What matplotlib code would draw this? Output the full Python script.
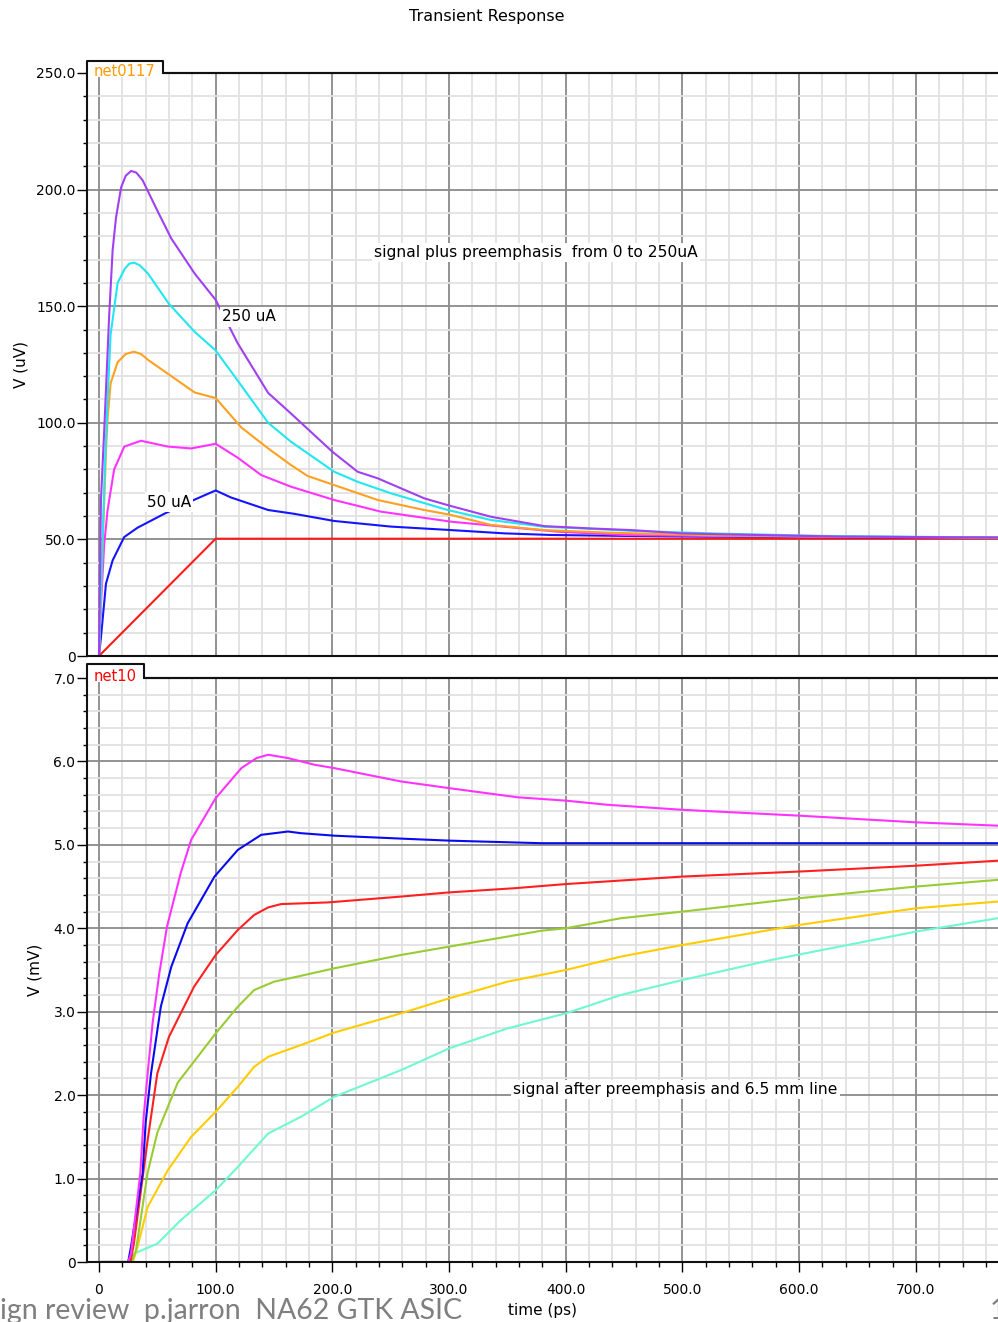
import matplotlib
matplotlib.use('agg')
import matplotlib.pyplot as plt
from matplotlib.ticker import MultipleLocator, FuncFormatter
from matplotlib.patches import Rectangle
from matplotlib.lines import Line2D

# ---- top panel: net0117, V (uV) vs time (ps) ----
t_ramp = [0, 100, 770]
v_ramp = [0, 50.3, 50.3]

t_50ua = [0, 1.7, 6, 11.7, 21.6, 33, 56, 81.7, 100, 113, 145, 167, 201.6, 250,
          301.6, 347, 387, 450, 520, 600, 770]
v_50ua = [0, 8, 31, 41, 51, 55, 61, 67, 71, 68, 62.6, 61, 57.9, 55.5,
          54, 52.6, 51.9, 51.5, 51.2, 51, 50.8]

t_100ua = [0, 2, 4.5, 7.4, 13, 21.7, 36, 59, 79, 100, 119, 139, 164.5, 201.6,
           241.6, 301.6, 341.6, 393, 450, 520, 600, 770]
v_100ua = [0, 25, 48, 62.6, 80, 89.8, 92.3, 89.8, 89, 91, 85, 77.6, 72.6, 66.9,
           61.9, 57.6, 55.7, 53.3, 51.9, 51.5, 51.2, 50.8]

t_150ua = [0, 3, 6, 7.4, 10, 16, 23, 30, 36, 42, 62, 82, 100, 122, 145, 164.5, 178.8,
           201.6, 238.8, 278.8, 301.6, 336, 381.6, 436, 520, 600, 770]
v_150ua = [0, 45, 88, 102, 117, 126, 129.5, 130.5, 129.5, 127, 120, 113, 110.6, 98, 89,
           81.9, 77.2, 73.3, 66.9, 62.6, 60.5, 56.2, 54, 52.9, 51.8, 51.3, 50.8]

t_200ua = [0, 2.5, 5, 7.4, 10, 16, 22, 26, 30, 35, 42, 60, 82, 100, 119, 145, 164.5,
           201.6, 221.7, 250, 298.8, 336, 381.6, 410, 460, 530, 620, 770]
v_200ua = [0, 40, 80, 110, 138, 160, 166, 168.2, 168.7, 167.5, 164, 151, 139, 131, 118,
           100, 91.9, 79, 74.7, 69.8, 62.6, 58.3, 55.4, 54.8, 53.6, 52.5, 51.5, 50.8]

t_250ua = [0, 1.7, 4.4, 8.7, 11.7, 14.6, 19, 23, 27.6, 32, 37.4, 50, 62, 82, 100, 119,
           145, 164.5, 200, 221.7, 238.8, 278.8, 301.6, 336, 381.6, 421.6, 456, 499,
           533, 636, 770]
v_250ua = [0, 67, 95.6, 145.5, 174, 188, 201, 206, 208, 207.3, 204, 191, 179, 164, 152.7,
           134, 112.8, 104, 87.6, 79, 76.2, 67.6, 64.3, 59.7, 55.7, 54.7, 54, 52.6,
           52.2, 51.2, 50.8]

top_series = [
    (t_ramp, v_ramp, '#ff1a1a'),
    (t_50ua, v_50ua, '#1414ff'),
    (t_100ua, v_100ua, '#ff33ff'),
    (t_150ua, v_150ua, '#ffa020'),
    (t_200ua, v_200ua, '#22e6f0'),
    (t_250ua, v_250ua, '#a040f0'),
]

# ---- bottom panel: net10, V (mV) vs time (ps) ----
t_mag = [0, 25, 27.4, 35.4, 38.3, 41.7, 46, 51.7, 58.3, 70, 79, 100, 122, 135, 145, 162,
         184.7, 201.6, 258.8, 300, 358.8, 400, 436, 500, 600, 700, 770]
v_mag = [0, 0, 0.1, 1.06, 1.74, 2.26, 2.87, 3.46, 4.02, 4.66, 5.06, 5.56, 5.92, 6.04, 6.08,
         6.04, 5.96, 5.92, 5.76, 5.68, 5.57, 5.53, 5.48, 5.42, 5.35, 5.27, 5.23]

t_blu = [0, 25, 27.4, 37.4, 40, 44.6, 53, 62, 76, 99, 119, 139, 162, 173, 201.6,
         267, 301.6, 378.8, 770]
v_blu = [0, 0, 0.18, 1.06, 1.67, 2.26, 3.06, 3.54, 4.06, 4.62, 4.94, 5.12, 5.16, 5.14, 5.11,
         5.07, 5.05, 5.02, 5.02]

t_red = [0, 27, 30, 41.7, 50, 60, 70, 81.5, 100, 119, 133, 145, 156, 196, 258.8, 300,
         355.9, 400, 444.5, 500, 600, 700, 770]
v_red = [0, 0, 0.23, 1.46, 2.26, 2.7, 2.98, 3.3, 3.68, 3.98, 4.16, 4.25, 4.29, 4.31, 4.38,
         4.43, 4.48, 4.53, 4.57, 4.62, 4.68, 4.75, 4.81]

t_grn = [0, 28, 31.7, 41.7, 50, 67.5, 84.6, 100, 119, 133, 150, 173, 201.6, 258.8,
         300, 378.8, 400, 447, 500, 600, 700, 770]
v_grn = [0, 0, 0.14, 1.07, 1.55, 2.15, 2.46, 2.74, 3.06, 3.26, 3.36, 3.43, 3.52, 3.68,
         3.78, 3.97, 4.0, 4.12, 4.2, 4.36, 4.5, 4.58]

t_yel = [0, 29, 33, 41.7, 59, 79, 100, 119, 133, 145, 173, 201.6, 258.8, 300, 350,
         400, 447, 500, 600, 700, 770]
v_yel = [0, 0, 0.18, 0.66, 1.1, 1.5, 1.8, 2.1, 2.34, 2.46, 2.6, 2.75, 2.98, 3.16, 3.36,
         3.5, 3.66, 3.8, 4.04, 4.24, 4.32]

t_cya = [0, 27, 30, 50, 70, 100, 119, 145, 173, 201.6, 258.8, 300, 350, 400, 447,
         500, 576, 700, 770]
v_cya = [0, 0, 0.1, 0.22, 0.5, 0.86, 1.14, 1.54, 1.74, 1.98, 2.3, 2.56, 2.8, 2.98, 3.2,
         3.38, 3.62, 3.96, 4.12]

bottom_series = [
    (t_cya, v_cya, '#70f8d0'),
    (t_yel, v_yel, '#ffcc00'),
    (t_grn, v_grn, '#99cc33'),
    (t_red, v_red, '#ff2020'),
    (t_blu, v_blu, '#0a0af0'),
    (t_mag, v_mag, '#ff33ff'),
]

W, Hpx = 998, 1322


def fx(px):
    return px / W


def fy(py):
    return 1 - py / Hpx


def fmt(v, pos):
    return '0' if abs(v) < 1e-9 else f'{v:.1f}'


def style_axes(ax, ymax, ymajor, yminor):
    ax.set_xlim(-10, 770.4)
    ax.set_ylim(0, ymax)
    ax.xaxis.set_major_locator(MultipleLocator(100))
    ax.xaxis.set_minor_locator(MultipleLocator(20))
    ax.yaxis.set_major_locator(MultipleLocator(ymajor))
    ax.yaxis.set_minor_locator(MultipleLocator(yminor))
    ax.yaxis.set_major_formatter(FuncFormatter(fmt))
    ax.xaxis.set_major_formatter(FuncFormatter(fmt))
    ax.set_axisbelow(True)
    ax.grid(which='minor', color='#e2e2e2', lw=1.3)
    ax.grid(which='major', color='#8a8a8a', lw=1.3)
    ax.spines['right'].set_visible(False)
    for s in ('left', 'top', 'bottom'):
        ax.spines[s].set_linewidth(1.5)
        ax.spines[s].set_color('#111111')
    ax.tick_params(axis='y', which='major', length=7, width=1, pad=1.5, labelsize=10)
    ax.tick_params(axis='y', which='minor', length=3, width=1)


fig = plt.figure(figsize=(9.98, 13.22), dpi=100)
left = fx(87.3)
ax1 = fig.add_axes([left, fy(656), 1 - left, (656 - 73) / Hpx])
ax2 = fig.add_axes([left, fy(1262), 1 - left, (1262 - 678) / Hpx])

style_axes(ax1, 250, 50, 10)
style_axes(ax2, 7, 1, 0.2)

ax1.tick_params(axis='x', which='both', length=0, labelbottom=False)
ax2.tick_params(axis='x', which='major', length=7, width=1, pad=8, labelsize=10)
ax2.tick_params(axis='x', which='minor', length=3.5, width=1)

for t, v, c in top_series:
    ax1.plot(t, v, color=c, lw=1.5)
for t, v, c in bottom_series:
    ax2.plot(t, v, color=c, lw=1.5)

ax1.set_ylabel('V (uV)', fontsize=11)
ax1.yaxis.set_label_coords((28 - 87.3) / (W - 87.3), 0.5)
ax2.set_ylabel('V (mV)', fontsize=11)
ax2.yaxis.set_label_coords((43 - 87.3) / (W - 87.3), 0.5)
ax2.set_xlabel('time (ps)', fontsize=11)
ax2.xaxis.set_label_coords(0.5, -0.07)

box = dict(facecolor='white', edgecolor='none', pad=1.5)
ax1.text(374.5, 173, 'signal plus preemphasis  from 0 to 250uA', ha='center',
         va='center', fontsize=11.2, bbox=box)
ax1.text(105.5, 145.4, '250 uA', ha='left', va='center', fontsize=11, bbox=box)
ax1.text(41, 66, '50 uA', ha='left', va='center', fontsize=11, bbox=box)
ax2.text(494, 2.07, 'signal after preemphasis and 6.5 mm line', ha='center',
         va='center', fontsize=11.2, bbox=box)

# signal name tabs
for (x0, x1, y0, y1, name, col, ty) in [(87.3, 163, 60.7, 73, 'net0117', '#ff9900', 71),
                                        (87.3, 144, 664.3, 678.3, 'net10', '#ff0000', 676.5)]:
    fig.add_artist(Rectangle((fx(x0 + 1), fy(y1 + 4)), fx(x1 - x0 - 2), (y1 + 4 - y0 - 1) / Hpx,
                             transform=fig.transFigure, facecolor='white',
                             edgecolor='none', zorder=5))
    fig.add_artist(Line2D([fx(x0), fx(x0), fx(x1), fx(x1), fx(W)],
                          [fy(y1 + 4), fy(y0), fy(y0), fy(y1), fy(y1)],
                          transform=fig.transFigure, color='#111111', lw=1.5, zorder=6))
    fig.text(fx(94), fy(ty), name, color=col, fontsize=10.6, ha='left', va='center', zorder=7)

fig.text(fx(487), fy(16), 'Transient Response', ha='center', va='center', fontsize=11.5)

# slide footer
fig.text(0.0, fy(1319), 'ign review  p.jarron  NA62 GTK ASIC', ha='left', va='baseline',
         fontsize=20.5, family='Lato', color='#7f7f7f')
fig.text(fx(990), fy(1319), '1', ha='left', va='baseline', fontsize=20.5, family='Lato',
         color='#7f7f7f')

fig.savefig('out.png', dpi=100)
plt.close(fig)
